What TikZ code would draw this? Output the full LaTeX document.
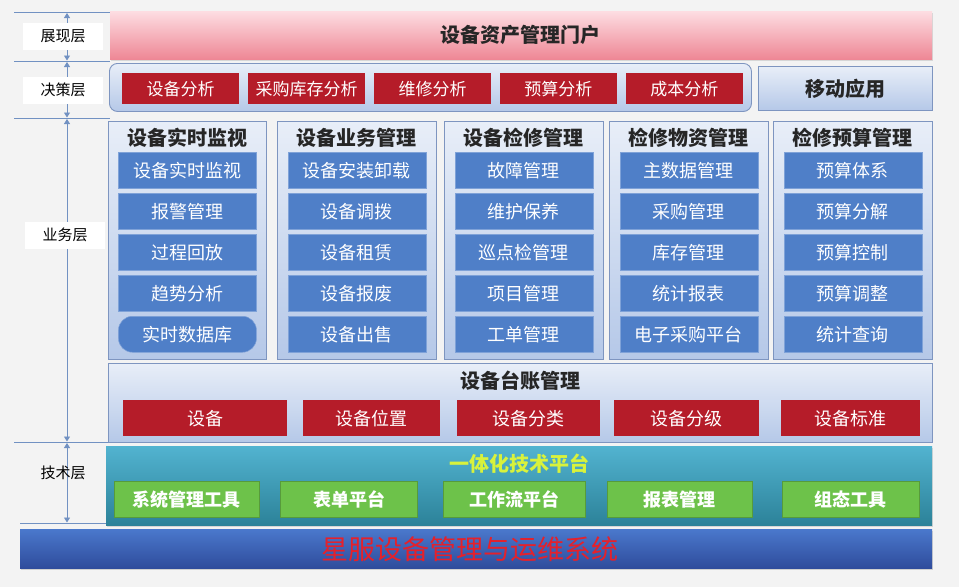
\documentclass[tikz,border=0pt]{standalone}
\usepackage{fontspec}
\setmainfont{Noto Sans CJK SC}
\usetikzlibrary{arrows.meta, positioning, shadows}

\definecolor{pageGray}{HTML}{F3F3F3}
\definecolor{guideLine}{HTML}{7191C2}
\definecolor{portalTop}{HTML}{FDDDE2}
\definecolor{portalBot}{HTML}{EE8795}
\definecolor{paleTop}{HTML}{E8EEF8}
\definecolor{paleBot}{HTML}{B5C8E8}
\definecolor{frameLine}{HTML}{7E95C0}
\definecolor{boxRed}{HTML}{B51C29}
\definecolor{tileBlue}{HTML}{4F7FC8}
\definecolor{tileEdge}{HTML}{7FA2D8}
\definecolor{techTop}{HTML}{52B3D0}
\definecolor{techBot}{HTML}{2C8299}
\definecolor{tileGreen}{HTML}{6DC24A}
\definecolor{titleYellow}{HTML}{D8F23C}
\definecolor{baseTop}{HTML}{4A78CC}
\definecolor{baseBot}{HTML}{2F4C9C}
\definecolor{baseText}{HTML}{E5212B}

\begin{document}
\begin{tikzpicture}[
    x=1pt, y=-1pt,
    fs/.style={font=\fontsize{#1pt}{#1pt}\selectfont},
    fsb/.style={font=\fontsize{#1pt}{#1pt}\selectfont\bfseries},
    band/.style={rectangle, inner sep=0pt, anchor=north west},
    frame/.style={band, draw=frameLine, line width=0.9pt, top color=paleTop, bottom color=paleBot},
    redbox/.style={band, fill=boxRed, text=white, minimum height=#1, fs=17},
    tile/.style={rectangle, inner sep=0pt, draw=tileEdge, line width=0.5pt, fill=tileBlue,
                 minimum width=138pt, minimum height=36pt, text=white, fs=18},
    greenbox/.style={band, fill=tileGreen, draw=tileGreen!80!black, line width=0.4pt,
                     minimum height=36pt, text=white, fsb=18},
    head/.style={fsb=20, text=black!85},
    layer/.style={fill=white, minimum width=80pt, minimum height=27pt, fs=15},
    guide/.style={draw=guideLine, line width=0.9pt},
    span/.style={{Triangle[length=5pt,width=6pt]}-{Triangle[length=5pt,width=6pt]},
                 draw=guideLine, line width=0.9pt}
]
\useasboundingbox (0,0) rectangle (959,587);
\fill[pageGray] (0,0) rectangle (959,587);

% Layer guides
\draw[guide] (14,12) -- (110,12);
\draw[guide] (14,61) -- (110,61);
\draw[guide] (14,118) -- (110,118);
\draw[guide] (14,442) -- (110,442);
\draw[guide] (20,523) -- (110,523);
\coordinate (g0) at (67,13);
\coordinate (g1) at (67,60.5);
\coordinate (g2) at (67,62);
\coordinate (g3) at (67,117.5);
\coordinate (g4) at (67,119);
\coordinate (g5) at (67,441.5);
\coordinate (g6) at (67,443);
\coordinate (g7) at (67,522.5);
\draw[span] (g0) -- (g1);
\draw[span] (g2) -- (g3);
\draw[span] (g4) -- (g5);
\draw[span] (g6) -- (g7);

\node[layer] (lshow) at (63,36)  {展现层};
\node[layer] (ldec)  at (63,90)  {决策层};
\node[layer] (lbiz)  at (65,235) {业务层};
\node[fs=15] (ltech) at (63,473) {技术层};

% Portal
\node[band, minimum width=822pt, minimum height=48pt, top color=portalTop, bottom color=portalBot,
      drop shadow={shadow xshift=1pt, shadow yshift=-2pt, opacity=0.25}] (portal) at (110,11) {};
\node[head] (portalt) at (520,35) {设备资产管理门户};

% Decision row
\node[frame, rounded corners=8pt, minimum width=642pt, minimum height=48pt] (decide) at (109,63) {};
\node[redbox=31pt, minimum width=117pt] (d1) at (122,73) {设备分析};
\node[redbox=31pt, minimum width=117pt, anchor=west, right=8.5pt of d1] (d2) {采购库存分析};
\node[redbox=31pt, minimum width=117pt, anchor=west, right=8.5pt of d2] (d3) {维修分析};
\node[redbox=31pt, minimum width=117pt, anchor=west, right=8.5pt of d3] (d4) {预算分析};
\node[redbox=31pt, minimum width=117pt, anchor=west, right=8.5pt of d4] (d5) {成本分析};
\node[frame, minimum width=174pt, minimum height=44pt] (mobile) at (758,66) {};
\node[head] (mobilet) at (mobile.center) {移动应用};

% Business columns
\node[frame, minimum width=158pt, minimum height=238pt] (c1) at (108,121) {};
\node[frame, minimum width=159pt, minimum height=238pt] (c2) at (277,121) {};
\node[frame, minimum width=159pt, minimum height=238pt] (c3) at (444,121) {};
\node[frame, minimum width=159pt, minimum height=238pt] (c4) at (609,121) {};
\node[frame, minimum width=159pt, minimum height=238pt] (c5) at (773,121) {};

\node[head] (c1t) at ([yshift=-17pt]c1.north) {设备实时监视};
\node[tile, below=31pt of c1.north] (c1a) {设备实时监视};
\node[tile, below=4.5pt of c1a] (c1b) {报警管理};
\node[tile, below=4.5pt of c1b] (c1c) {过程回放};
\node[tile, below=4.5pt of c1c] (c1d) {趋势分析};
\node[tile, below=4.5pt of c1d, rounded corners=14pt] (c1e) {实时数据库};

\node[head] (c2t) at ([yshift=-17pt]c2.north) {设备业务管理};
\node[tile, below=31pt of c2.north] (c2a) {设备安装卸载};
\node[tile, below=4.5pt of c2a] (c2b) {设备调拨};
\node[tile, below=4.5pt of c2b] (c2c) {设备租赁};
\node[tile, below=4.5pt of c2c] (c2d) {设备报废};
\node[tile, below=4.5pt of c2d] (c2e) {设备出售};

\node[head] (c3t) at ([yshift=-17pt]c3.north) {设备检修管理};
\node[tile, below=31pt of c3.north] (c3a) {故障管理};
\node[tile, below=4.5pt of c3a] (c3b) {维护保养};
\node[tile, below=4.5pt of c3b] (c3c) {巡点检管理};
\node[tile, below=4.5pt of c3c] (c3d) {项目管理};
\node[tile, below=4.5pt of c3d] (c3e) {工单管理};

\node[head] (c4t) at ([yshift=-17pt]c4.north) {检修物资管理};
\node[tile, below=31pt of c4.north] (c4a) {主数据管理};
\node[tile, below=4.5pt of c4a] (c4b) {采购管理};
\node[tile, below=4.5pt of c4b] (c4c) {库存管理};
\node[tile, below=4.5pt of c4c] (c4d) {统计报表};
\node[tile, below=4.5pt of c4d] (c4e) {电子采购平台};

\node[head] (c5t) at ([yshift=-17pt]c5.north) {检修预算管理};
\node[tile, below=31pt of c5.north] (c5a) {预算体系};
\node[tile, below=4.5pt of c5a] (c5b) {预算分解};
\node[tile, below=4.5pt of c5b] (c5c) {预算控制};
\node[tile, below=4.5pt of c5c] (c5d) {预算调整};
\node[tile, below=4.5pt of c5d] (c5e) {统计查询};

% Equipment ledger
\node[frame, minimum width=824pt, minimum height=79pt] (ledger) at (108,363) {};
\node[head] (ledgert) at ([yshift=-18pt]ledger.north) {设备台账管理};
\node[redbox=36pt, minimum width=164pt, fs=18] (e1) at (123,400) {设备};
\node[redbox=36pt, minimum width=137pt, fs=18, anchor=west, right=15pt of e1] (e2) {设备位置};
\node[redbox=36pt, minimum width=143pt, fs=18, anchor=west, right=17pt of e2] (e3) {设备分类};
\node[redbox=36pt, minimum width=145pt, fs=18, anchor=west, right=14pt of e3] (e4) {设备分级};
\node[redbox=36pt, minimum width=139pt, fs=18, anchor=west, right=21pt of e4] (e5) {设备标准};

% Technology platform
\node[band, minimum width=826pt, minimum height=79pt, top color=techTop, bottom color=techBot,
      drop shadow={shadow xshift=1pt, shadow yshift=-2pt, opacity=0.25}] (tech) at (106,446) {};
\node[head, text=titleYellow] (techt) at ([yshift=-18pt]tech.north) {一体化技术平台};
\node[greenbox, minimum width=145pt] (t1) at (114,481) {系统管理工具};
\node[greenbox, minimum width=137pt, anchor=west, right=21pt of t1] (t2) {表单平台};
\node[greenbox, minimum width=142pt, anchor=west, right=25pt of t2] (t3) {工作流平台};
\node[greenbox, minimum width=145pt, anchor=west, right=22pt of t3] (t4) {报表管理};
\node[greenbox, minimum width=137pt, anchor=west, right=29pt of t4] (t5) {组态工具};

% Base system
\node[band, minimum width=912pt, minimum height=39pt, top color=baseTop, bottom color=baseBot,
      drop shadow={shadow xshift=1pt, shadow yshift=-2pt, opacity=0.3}] (base) at (20,529) {};
\node[fs=27, text=baseText] (baset) at (470,549) {星服设备管理与运维系统};
\end{tikzpicture}
\end{document}
